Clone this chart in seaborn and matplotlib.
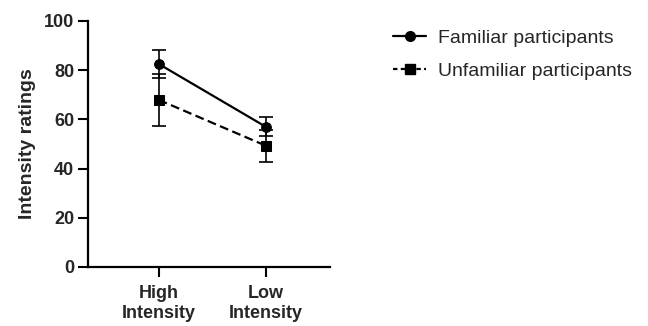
import matplotlib
matplotlib.use("Agg")
import matplotlib.pyplot as plt
import seaborn as sns
import pandas as pd
from matplotlib.lines import Line2D

categories = ["High\nIntensity", "Low\nIntensity"]
familiar_mean = [82.5, 57.0]
familiar_err = [5.8, 3.8]
unfamiliar_mean = [67.9, 49.3]
unfamiliar_err = [10.6, 6.5]
groups = ["Familiar participants", "Unfamiliar participants"]
yticks = [0, 20, 40, 60, 80, 100]

sns.set_theme(style="ticks")
plt.rcParams['font.family'] = ['Liberation Sans', 'DejaVu Sans']

df = pd.DataFrame({
    "cat": categories * 2,
    "val": familiar_mean + unfamiliar_mean,
    "err": familiar_err + unfamiliar_err,
    "group": [groups[0]] * 2 + [groups[1]] * 2,
})

fig = plt.figure(figsize=(6.48, 3.26), dpi=100)
ax = fig.add_axes([0.136, 0.181, 0.373, 0.755])

sns.lineplot(data=df, x="cat", y="val", hue="group", style="group",
             palette=["black", "black"], markers=["o", "s"],
             dashes=[(None, None), (4, 2)], markersize=7, linewidth=1.6,
             markeredgecolor="black", legend=False, ax=ax, sort=False)

xpos = {c: i for i, c in enumerate(categories)}
for g in groups:
    sub = df[df["group"] == g]
    ax.errorbar([xpos[c] for c in sub["cat"]], sub["val"], yerr=sub["err"],
                fmt="none", ecolor="black", elinewidth=1.2, capsize=5, capthick=1.2)

ax.set_ylim(0, 100)
ax.set_xlim(-0.66, 1.6)
ax.set_yticks(yticks)
ax.set_xlabel("")
ax.set_ylabel("Intensity ratings", fontsize=14, fontweight="bold", labelpad=6)
for lab in ax.get_xticklabels() + ax.get_yticklabels():
    lab.set_fontweight("bold")
    lab.set_fontsize(13)
ax.tick_params(axis="both", width=1.5, length=7, color="black", pad=3)
ax.tick_params(axis="x", pad=6)
for s in ["left", "bottom"]:
    ax.spines[s].set_linewidth(1.6)
    ax.spines[s].set_color("black")
sns.despine(ax=ax)

handles = [
    Line2D([], [], color="black", marker="o", markersize=7, linestyle="-", linewidth=1.6),
    Line2D([], [], color="black", marker="s", markersize=7, linestyle=(0, (2, 1.5)), linewidth=1.6),
]
fig.legend(handles, groups, loc="upper left", bbox_to_anchor=(0.58, 0.965),
           frameon=False, fontsize=14, handlelength=1.7, handletextpad=0.6,
           labelspacing=0.8)

fig.savefig("out.png", dpi=100)
